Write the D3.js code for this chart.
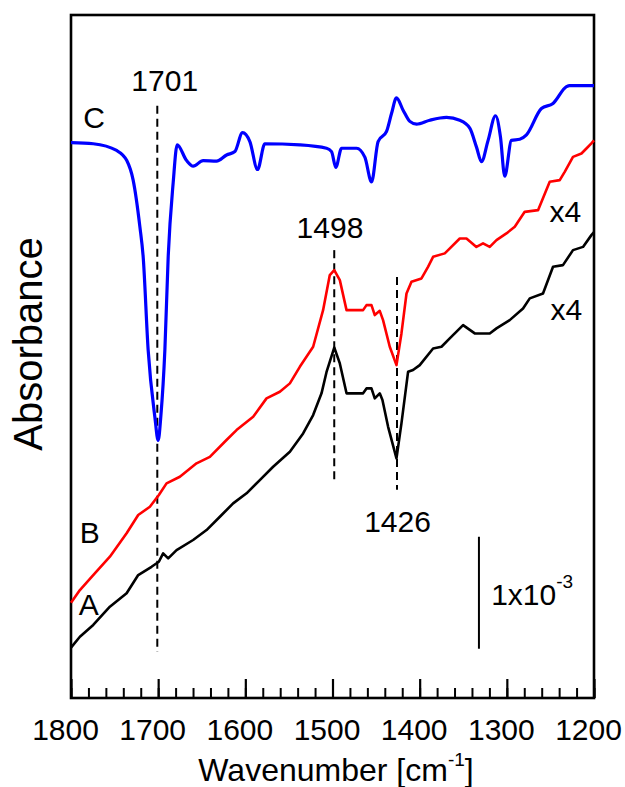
<!DOCTYPE html>
<html>
<head>
<meta charset="utf-8">
<script src="https://cdn.jsdelivr.net/npm/d3@7"></script>
<style>
  body { margin: 0; background: #fff; }
  svg text { font-family: Arial, "Liberation Sans", sans-serif; fill: #000; }
</style>
</head>
<body>
<div id="chart"></div>
<script>
// ---- data (wavenumber in cm-1, absorbance in units of 1e-4, curves offset) ----
const wnC = [1800,1774.5,1747.7,1736,1728.7,1721,1717.2,1711.5,1703.8,1700,1696.9,1692.3,1688.5,1682.8,1678.2,1667.4,1659.8,1648.4,1633,1621.5,1612,1603.2,1594.8,1586,1577.6,1537.5,1506.8,1501.1,1496.2,1489.6,1472.4,1462.9,1455.2,1447.7,1438,1432.3,1426.6,1419,1411.3,1403.6,1388.4,1369.2,1354,1342.5,1334.8,1329.1,1321.5,1313,1307.3,1302.4,1294.7,1285.2,1277.5,1260.3,1247,1231.6,1228,1200];
const absC = [49.6,49.5,48.9,48.0,46.25,42.1,39.4,31.1,25.1,23.0,25.2,31.1,39.4,46.0,49.4,48.0,47.5,48.0,47.95,48.5,48.8,50.5,49.7,47.2,49.5,49.4,49.1,48.8,47.4,49.1,49.1,48.3,46.1,49.7,50.6,52.2,53.6,52.5,51.5,51.25,51.6,51.85,51.6,50.9,49.2,47.9,49.8,52.0,50.1,46.6,49.8,49.9,50.3,52.65,53.1,54.6,54.7,54.7];

const wnB = [1800,1789.8,1774.5,1755.4,1736.2,1722.9,1709.5,1699.2,1690.4,1675.1,1656.0,1640.7,1621.6,1610.1,1591.0,1575.7,1560.4,1548.9,1537.5,1522.2,1510.8,1503.1,1498,1491.6,1483.9,1464.9,1461.0,1455.3,1451.5,1445.8,1442.0,1434.3,1426.6,1420.9,1415.1,1409.4,1397.9,1390.4,1384.6,1371.2,1367.4,1354.0,1346.3,1334.9,1327.3,1319.6,1311.9,1300.5,1290.9,1279.5,1264.2,1250.8,1239.3,1233.6,1224.1,1214.4,1208.7,1203.0,1200];
const absB = [8.5,9.64,10.98,12.62,14.71,16.34,17.08,18.13,19.17,19.76,20.96,21.54,23.04,23.93,25.12,26.76,27.35,28.1,29.58,31.37,34.64,37.77,38.21,37.32,34.64,34.64,35.09,35.09,34.2,34.58,33.75,31.37,29.73,32.56,36.13,37.17,37.47,38.51,39.4,39.71,40.0,41.04,41.04,40.29,40.6,40.29,40.89,41.49,42.08,43.42,43.57,46.1,46.25,46.99,48.33,48.63,49.08,49.53,49.8];

const wnA = [1800,1789.8,1774.5,1755.4,1736.2,1722.9,1707.6,1699.2,1694.3,1688.5,1678.9,1659.9,1644.5,1629.2,1614.0,1598.6,1583.4,1568.1,1548.9,1533.7,1522.2,1512.6,1506.9,1498,1491.6,1483.9,1464.9,1461.0,1455.3,1451.5,1445.8,1442.7,1436.2,1426.6,1420.9,1413.3,1407.6,1399.9,1384.6,1375.0,1365.5,1350.2,1336.8,1319.6,1311.9,1296.7,1281.4,1273.7,1258.5,1247.0,1235.6,1224.1,1212.6,1203.0,1200];
const absA = [4.5,5.47,6.52,8.15,9.35,10.98,11.72,12.17,12.92,12.47,13.21,14.11,15.0,16.19,17.38,18.28,19.46,20.65,21.99,23.63,25.27,27.21,29.1,31.3,29.88,27.21,27.21,27.65,27.65,26.76,27.21,26.61,24.22,21.4,24.53,29.13,29.29,29.73,31.22,31.37,32.12,33.3,32.56,32.56,33.01,33.75,34.79,35.69,36.13,38.51,38.66,40.0,40.29,41.34,41.6];

// dashed peak markers
const markerWn = [1701, 1498, 1426];
const markerTop = [52.9, 40.0, 37.6];
const markerBottom = [4.1, 19.2, 18.6];

// axis ticks
const tickLabels = [1800, 1700, 1600, 1500, 1400, 1300, 1200];
const minorTicks = d3.range(1800, 1199, -20);

// scale bar: 1x10^-3 = 10 units
const scaleBarWn = 1332;
const scaleBarRange = [4.4, 14.4];

// ---- layout ----
const W = 625, H = 787;
const margin = { left: 71, top: 15, right: 31, bottom: 89 };
const innerW = W - margin.left - margin.right;
const innerH = H - margin.top - margin.bottom;

const x = d3.scaleLinear().domain([1800, 1200]).range([margin.left, margin.left + innerW]);
const y = d3.scaleLinear().domain([0, 61]).range([margin.top + innerH, margin.top]);

const svg = d3.select('#chart').append('svg')
    .attr('width', W)
    .attr('height', H);

// axis ticks (pointing inward)
const bottomY = margin.top + innerH;
svg.append('g')
    .attr('transform', `translate(0,${bottomY})`)
    .call(d3.axisBottom(x).tickValues(minorTicks).tickSize(-10).tickFormat(''))
    .call(g => g.select('.domain').remove())
    .call(g => g.selectAll('line').attr('stroke', '#000').attr('stroke-width', 2));

svg.append('g')
    .attr('transform', `translate(0,${bottomY})`)
    .call(d3.axisBottom(x).tickValues(tickLabels).tickSize(-19).tickPadding(21).tickFormat(d3.format('d')))
    .call(g => g.select('.domain').remove())
    .call(g => g.selectAll('line').attr('stroke', '#000').attr('stroke-width', 2.2))
    .call(g => g.selectAll('text')
        .attr('font-size', 30)
        .attr('dx', -6)
        .style('font-family', 'Arial, "Liberation Sans", sans-serif')
        .attr('fill', '#000'));

// frame
svg.append('rect')
    .attr('x', margin.left)
    .attr('y', margin.top)
    .attr('width', innerW)
    .attr('height', innerH)
    .attr('fill', 'none')
    .attr('stroke', '#000')
    .attr('stroke-width', 2.6);

// dashed markers
svg.append('g')
    .selectAll('line')
    .data(markerWn)
    .join('line')
    .attr('x1', d => x(d))
    .attr('x2', d => x(d))
    .attr('y1', (d, i) => y(markerTop[i]))
    .attr('y2', (d, i) => y(markerBottom[i]))
    .attr('stroke', '#000')
    .attr('stroke-width', 2)
    .attr('stroke-dasharray', '8,5');

// curves
const series = [
    { wn: wnA, abs: absA, color: '#000000', width: 2.6, curve: d3.curveLinear },
    { wn: wnB, abs: absB, color: '#ff0000', width: 2.6, curve: d3.curveLinear },
    { wn: wnC, abs: absC, color: '#0000ff', width: 3.2, curve: d3.curveMonotoneX }
];

series.forEach(s => {
    const pts = s.wn.map((w, i) => [w, s.abs[i]]);
    const line = d3.line()
        .x(d => x(d[0]))
        .y(d => y(d[1]))
        .curve(s.curve);
    svg.append('path')
        .datum(pts)
        .attr('d', line)
        .attr('fill', 'none')
        .attr('stroke', s.color)
        .attr('stroke-width', s.width)
        .attr('stroke-linejoin', 'round');
});

// scale bar
svg.append('line')
    .attr('x1', x(scaleBarWn))
    .attr('x2', x(scaleBarWn))
    .attr('y1', y(scaleBarRange[0]))
    .attr('y2', y(scaleBarRange[1]))
    .attr('stroke', '#000')
    .attr('stroke-width', 2);

const sb = svg.append('text')
    .attr('x', x(1318))
    .attr('y', y(8.31))
    .attr('font-size', 30);
sb.append('tspan').text('1x10');
sb.append('tspan').attr('font-size', 19).attr('dy', -17).text('-3');

// labels
const labels = [
    { t: '1701', wn: 1692.5, v: 54.2, anchor: 'middle' },
    { t: '1498', wn: 1502.9, v: 41.08, anchor: 'middle' },
    { t: '1426', wn: 1425.4, v: 14.85, anchor: 'middle' },
    { t: 'C', wn: 1786, v: 50.88, anchor: 'start' },
    { t: 'B', wn: 1790, v: 13.82, anchor: 'start' },
    { t: 'A', wn: 1791, v: 7.41, anchor: 'start' },
    { t: 'x4', wn: 1251, v: 42.54, anchor: 'start' },
    { t: 'x4', wn: 1250, v: 33.76, anchor: 'start' }
];

svg.append('g')
    .selectAll('text')
    .data(labels)
    .join('text')
    .attr('x', d => x(d.wn))
    .attr('y', d => y(d.v))
    .attr('text-anchor', d => d.anchor)
    .attr('font-size', 30)
    .text(d => d.t);

// axis titles
const xt = svg.append('text')
    .attr('x', 336)
    .attr('y', 781)
    .attr('text-anchor', 'middle')
    .attr('font-size', 32);
xt.append('tspan').text('Wavenumber [cm');
xt.append('tspan').attr('font-size', 19).attr('dy', -15).text('-1');
xt.append('tspan').attr('dy', 15).text(']');

svg.append('text')
    .attr('transform', 'translate(42,344) rotate(-90)')
    .attr('text-anchor', 'middle')
    .attr('font-size', 40)
    .text('Absorbance');
</script>
</body>
</html>
